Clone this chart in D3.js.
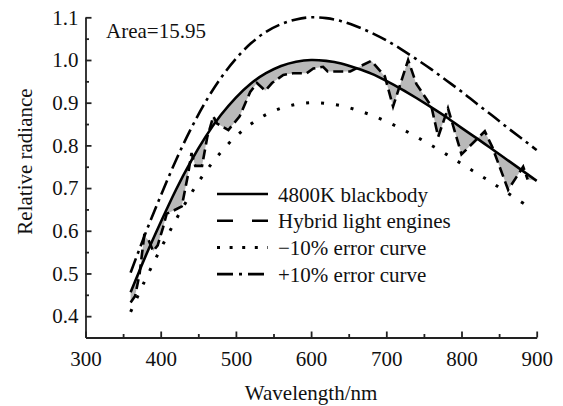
<!DOCTYPE html>
<html><head><meta charset="utf-8">
<script src="https://cdn.jsdelivr.net/npm/d3@7"></script>
<style>
html,body{margin:0;padding:0;background:#fff;}
svg{display:block;}
#chart{font-family:'Liberation Serif';}
</style></head><body>
<svg id="chart" width="563" height="406" style="font-family:'Liberation Serif'"></svg>
<script>
// ---- data ----
const wavelengths = [360,380,400,420,440,460,480,500,520,540,560,580,600,620,640,660,680,700,720,740,760,780,800,820,840,860,880,900];
const blackbody  = [0.456,0.541,0.620,0.695,0.762,0.821,0.871,0.912,0.945,0.969,0.986,0.996,1.000,0.998,0.992,0.981,0.968,0.951,0.932,0.911,0.889,0.866,0.841,0.817,0.792,0.767,0.742,0.717];
const upper10    = [0.502,0.595,0.682,0.764,0.838,0.903,0.958,1.003,1.039,1.066,1.084,1.095,1.100,1.098,1.091,1.079,1.064,1.046,1.025,1.002,0.978,0.952,0.926,0.898,0.871,0.843,0.816,0.789];
const lowerWavelengths = [360,380,400,420,440,460,480,500,520,540,560,580,600,620,640,660,680,700,720,740,760,780,800,820,840,860,880,890];
const lower10    = [0.410,0.487,0.558,0.625,0.686,0.739,0.784,0.821,0.850,0.872,0.887,0.896,0.900,0.898,0.893,0.883,0.871,0.856,0.839,0.820,0.800,0.779,0.757,0.735,0.713,0.690,0.667,0.656];
const hybridWavelengths = [360,366,372,378,384,390,396,403,408,418,428,436,441,446,455,462,470,475,490,505,519,528,539,548,563,576,594,603,616,622,652,665,680,690,698,709,729,740,760,769,782,800,831,841,862,875,882,888];
const hybrid     = [0.432,0.447,0.500,0.588,0.578,0.552,0.566,0.607,0.640,0.648,0.657,0.728,0.782,0.752,0.752,0.820,0.868,0.851,0.836,0.868,0.925,0.946,0.928,0.946,0.965,0.969,0.969,0.980,0.984,0.973,0.973,0.985,0.998,0.978,0.962,0.891,1.000,0.944,0.891,0.820,0.887,0.779,0.833,0.796,0.696,0.731,0.750,0.720];
const xMajorTicks = [300,400,500,600,700,800,900];
const xMinorTicks = [350,450,550,650,750,850];
const yMajorTicks = [0.4,0.5,0.6,0.7,0.8,0.9,1.0,1.1];
const yMinorTicks = [0.45,0.55,0.65,0.75,0.85,0.95,1.05];
const legendLabels = ["4800K blackbody","Hybrid light engines","\u221210% error curve","+10% error curve"];
const xTitle = "Wavelength/nm";
const yTitle = "Relative radiance";
const areaLabel = "Area=15.95";

function draw(){
  const svg = d3.select("#chart");
  const x = d3.scaleLinear().domain([300,900]).range([85.5,536.7]);
  const y = d3.scaleLinear().domain([0.35,1.1]).range([337.5,17.3]);

  const pts = (ws, vs) => ws.map((w,i)=>[w, vs[i]]);
  const bbPts = pts(wavelengths, blackbody);
  const upPts = pts(wavelengths, upper10);
  const loPts = pts(lowerWavelengths, lower10);
  const hyPts = pts(hybridWavelengths, hybrid);

  const smooth = d3.line().x(d=>x(d[0])).y(d=>y(d[1])).curve(d3.curveNatural);
  const straight = d3.line().x(d=>x(d[0])).y(d=>y(d[1])).curve(d3.curveLinear);

  // gray area between hybrid and blackbody
  const fwd = straight(hyPts);
  const back = smooth(bbPts.slice().reverse()).replace(/^M/, "L");
  svg.append("path").attr("d", fwd + back + "Z")
    .attr("fill", "#b9b9b9").attr("fill-rule", "nonzero").attr("stroke", "none");

  // curves
  svg.append("path").attr("d", smooth(loPts)).attr("fill","none")
    .attr("stroke","#000").attr("stroke-width",3).attr("stroke-dasharray","3,12");
  svg.append("path").attr("d", smooth(upPts)).attr("fill","none")
    .attr("stroke","#000").attr("stroke-width",2.6).attr("stroke-dasharray","15,5,3,5");
  svg.append("path").attr("d", smooth(bbPts)).attr("fill","none")
    .attr("stroke","#000").attr("stroke-width",2.6);
  svg.append("path").attr("d", straight(hyPts)).attr("fill","none")
    .attr("stroke","#000").attr("stroke-width",2.6).attr("stroke-dasharray","10,5");

  // axes
  function styleAxis(g){
    g.attr("font-family", null).attr("font-size", 21);
    g.selectAll("path,line").attr("stroke","#222").attr("stroke-width",1.8);
    g.selectAll("text").attr("fill","#111");
  }
  const x0 = y.range()[0], y0 = x.range()[0];
  svg.append("g").attr("transform",`translate(0,${x0})`)
    .call(d3.axisBottom(x).tickValues(xMinorTicks).tickSize(-3.5).tickSizeOuter(0).tickFormat(""))
    .call(g=>g.select(".domain").remove()).call(styleAxis);
  svg.append("g").attr("transform",`translate(0,${x0})`)
    .call(d3.axisBottom(x).tickValues(xMajorTicks).tickSize(-6).tickSizeOuter(0).tickPadding(14).tickFormat(d3.format("d")))
    .call(styleAxis);
  svg.append("g").attr("transform",`translate(${y0},0)`)
    .call(d3.axisLeft(y).tickValues(yMinorTicks).tickSize(-3.5).tickSizeOuter(0).tickFormat(""))
    .call(g=>g.select(".domain").remove()).call(styleAxis);
  svg.append("g").attr("transform",`translate(${y0},0)`)
    .call(d3.axisLeft(y).tickValues(yMajorTicks).tickSize(-6).tickSizeOuter(0).tickPadding(7).tickFormat(d3.format(".1f")))
    .call(styleAxis);

  // titles
  svg.append("text").attr("x", (x.range()[0]+x.range()[1])/2).attr("y", 400)
    .attr("text-anchor","middle").attr("font-size",21).attr("fill","#111").text(xTitle);
  svg.append("text").attr("transform","translate(31.5,161.5) rotate(-90)")
    .attr("text-anchor","middle").attr("font-size",21).attr("fill","#111").text(yTitle);
  svg.append("text").attr("x",106).attr("y",37.5)
    .attr("font-size",21).attr("fill","#111").text(areaLabel);

  // legend
  const legendDash = [null, "16,19", "3,9.6", "16,6,3,6"];
  const legendWidth = [2.6, 2.6, 3, 2.6];
  const lg = svg.append("g");
  legendLabels.forEach((lab,i)=>{
    const yy = 194 + i*26.7;
    const ln = lg.append("line").attr("x1",217).attr("x2",268).attr("y1",yy).attr("y2",yy)
      .attr("stroke","#000").attr("stroke-width",legendWidth[i]);
    if (legendDash[i]) ln.attr("stroke-dasharray", legendDash[i]);
    lg.append("text").attr("x",278).attr("y",yy+7.5)
      .attr("font-size",21).attr("fill","#111").text(lab);
  });
}
draw();
</script>
</body></html>
